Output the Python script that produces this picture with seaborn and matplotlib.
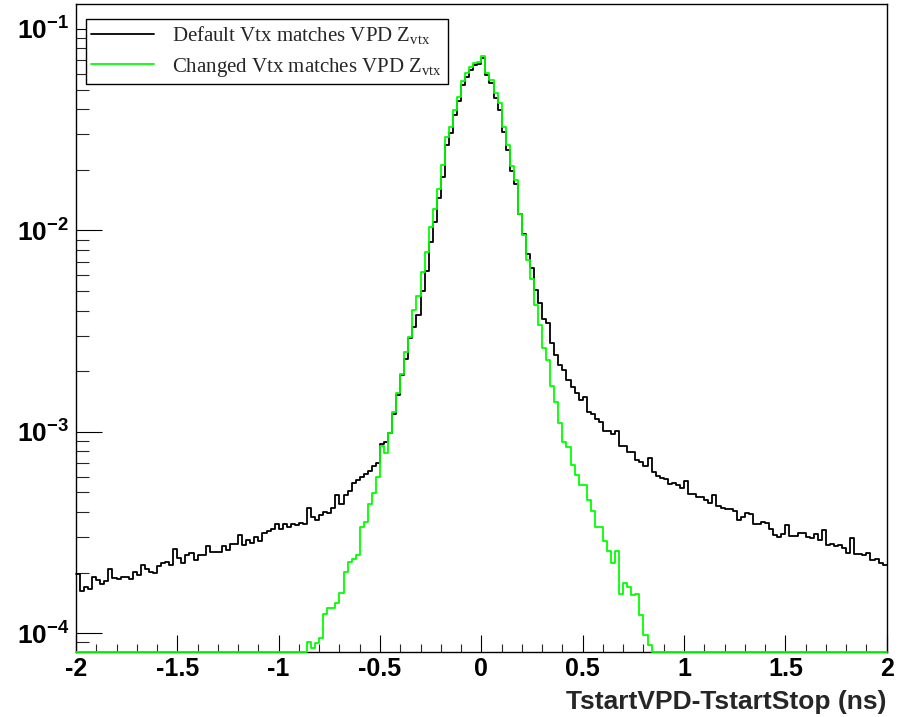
import numpy as np
import pandas as pd
import matplotlib
matplotlib.use("Agg")
import matplotlib.pyplot as plt
import seaborn as sns
from matplotlib.ticker import MultipleLocator, LogLocator, FuncFormatter, NullFormatter

# ---------------- data ----------------
X_RANGE = (-2.0, 2.0)
N_BINS = 200

default_vals = [
    1.98e-4, 1.63e-4, 1.69e-4, 1.65e-4, 1.90e-4, 1.84e-4, 1.76e-4, 1.82e-4, 2.09e-4, 1.89e-4,
    1.86e-4, 1.90e-4, 1.91e-4, 1.87e-4, 2.02e-4, 1.95e-4, 2.17e-4, 2.08e-4, 2.02e-4, 2.00e-4,
    2.16e-4, 2.22e-4, 2.25e-4, 2.17e-4, 2.61e-4, 2.36e-4, 2.24e-4, 2.46e-4, 2.51e-4, 2.31e-4,
    2.45e-4, 2.44e-4, 2.72e-4, 2.54e-4, 2.54e-4, 2.54e-4, 2.72e-4, 2.59e-4, 2.76e-4, 2.77e-4,
    3.07e-4, 2.74e-4, 2.92e-4, 2.82e-4, 3.02e-4, 2.88e-4, 3.16e-4, 3.23e-4, 3.28e-4, 3.48e-4,
    3.29e-4, 3.48e-4, 3.38e-4, 3.47e-4, 3.43e-4, 3.51e-4, 3.48e-4, 4.17e-4, 3.76e-4, 3.67e-4,
    3.86e-4, 4.01e-4, 3.96e-4, 4.20e-4, 4.85e-4, 4.36e-4, 4.85e-4, 5.10e-4, 5.54e-4,
    5.76e-4, 5.98e-4, 6.17e-4, 6.41e-4, 6.76e-4, 7.02e-4, 8.75e-4, 8.92e-4, 9.89e-4, 1.23e-3, 1.52e-3,
    1.92e-3, 2.30e-3, 2.92e-3, 3.31e-3, 3.81e-3, 4.98e-3, 6.32e-3, 8.71e-3, 1.10e-2,
    1.45e-2, 1.85e-2, 2.66e-2, 3.05e-2, 3.74e-2, 4.37e-2, 5.27e-2, 5.75e-2, 6.27e-2, 6.62e-2, 6.70e-2,
    7.16e-2, 5.92e-2, 5.37e-2, 4.53e-2, 3.94e-2, 3.09e-2, 2.51e-2, 1.98e-2, 1.70e-2, 1.21e-2,
    9.55e-3, 7.66e-3, 6.50e-3, 5.07e-3, 4.36e-3, 3.63e-3, 3.47e-3, 2.76e-3, 2.42e-3, 2.15e-3,
    2.02e-3, 1.80e-3, 1.66e-3, 1.55e-3, 1.44e-3, 1.49e-3, 1.26e-3, 1.22e-3, 1.16e-3, 1.12e-3,
    1.01e-3, 1.01e-3, 9.74e-4, 1.01e-3, 8.52e-4, 8.52e-4, 7.96e-4, 7.96e-4, 7.24e-4, 7.10e-4,
    6.76e-4, 7.38e-4, 6.33e-4, 6.03e-4, 5.91e-4, 5.80e-4, 5.48e-4, 5.54e-4, 5.44e-4, 5.24e-4,
    5.69e-4, 4.91e-4, 4.91e-4, 4.73e-4, 4.73e-4, 4.58e-4, 4.45e-4, 4.85e-4, 4.28e-4, 4.20e-4,
    4.12e-4, 4.12e-4, 4.06e-4, 3.65e-4, 3.79e-4, 3.94e-4, 3.89e-4, 3.47e-4, 3.47e-4, 3.58e-4,
    3.54e-4, 3.29e-4, 3.07e-4, 3.02e-4, 3.11e-4, 3.44e-4, 3.05e-4, 3.05e-4, 3.13e-4, 3.16e-4,
    2.99e-4, 2.96e-4, 3.11e-4, 2.92e-4, 3.25e-4, 2.74e-4, 2.79e-4, 2.71e-4, 2.74e-4, 2.64e-4,
    2.49e-4, 2.96e-4, 2.47e-4, 2.47e-4, 2.45e-4, 2.51e-4, 2.31e-4, 2.33e-4, 2.24e-4, 2.18e-4,
]

changed_vals = [
    0, 0, 0, 0, 0, 0, 0, 0, 0, 0,
    0, 0, 0, 0, 0, 0, 0, 0, 0, 0,
    0, 0, 0, 0, 0, 0, 0, 0, 0, 0,
    0, 0, 0, 0, 0, 0, 0, 0, 0, 0,
    0, 0, 0, 0, 0, 0, 0, 0, 0, 0,
    0, 0, 0, 0, 0, 0, 0,
    9.09e-5, 8.42e-5, 8.92e-5, 9.45e-5, 1.24e-4, 1.33e-4, 1.33e-4, 1.41e-4, 1.58e-4, 2.02e-4,
    2.27e-4, 2.35e-4, 2.45e-4, 3.38e-4, 3.58e-4, 4.38e-4, 4.95e-4, 5.98e-4, 8.49e-4, 7.81e-4,
    9.89e-4, 1.26e-3, 1.56e-3,
    1.94e-3, 2.49e-3, 2.95e-3, 4.04e-3, 4.74e-3, 6.18e-3, 7.85e-3, 1.04e-2, 1.27e-2,
    1.60e-2, 2.11e-2, 2.92e-2, 3.27e-2, 3.96e-2, 4.58e-2, 5.52e-2, 6.03e-2, 6.46e-2, 6.81e-2, 6.89e-2,
    7.38e-2, 6.07e-2, 5.59e-2, 4.80e-2, 4.28e-2, 3.27e-2, 2.66e-2, 2.09e-2, 1.78e-2, 1.21e-2,
    9.51e-3, 7.10e-3, 5.75e-3, 4.28e-3, 3.40e-3, 2.61e-3, 2.28e-3, 1.69e-3,
    1.41e-3, 1.10e-3, 8.92e-4, 8.42e-4, 6.83e-4, 6.10e-4, 5.44e-4, 5.44e-4, 4.58e-4, 4.06e-4,
    3.38e-4, 3.38e-4, 2.88e-4, 2.57e-4, 2.24e-4, 2.57e-4, 1.56e-4, 1.78e-4, 1.70e-4, 1.55e-4,
    1.57e-4, 1.23e-4, 9.81e-5, 8.75e-5,
    0, 0, 0, 0, 0, 0, 0, 0, 0, 0,
    0, 0, 0, 0, 0, 0, 0, 0, 0, 0,
    0, 0, 0, 0, 0, 0, 0, 0, 0, 0,
    0, 0, 0, 0, 0, 0, 0, 0, 0, 0,
    0, 0, 0, 0, 0, 0, 0, 0, 0, 0,
    0, 0, 0, 0, 0, 0, 0, 0,
]

series_labels = ["Default Vtx matches VPD Z$_{\\mathrm{vtx}}$",
                 "Changed Vtx matches VPD Z$_{\\mathrm{vtx}}$"]
series_colors = ["#000000", "#00ff00"]
x_label = "TstartVPD-TstartStop (ns)"
Y_LIM = (8.1e-5, 0.133)

# ---------------- style ----------------
sns.set_theme(style="ticks")
plt.rcParams.update({
    "font.family": ["Liberation Sans", "DejaVu Sans"],
    "font.weight": "bold",
    "mathtext.fontset": "custom",
    "mathtext.rm": "Liberation Serif:weight=normal",
    "mathtext.it": "Liberation Serif:italic:weight=normal",
    "mathtext.bf": "Liberation Sans:bold",
    "axes.unicode_minus": False,
    "axes.edgecolor": "black",
    "axes.linewidth": 1.0,
    "figure.facecolor": "white",
    "axes.facecolor": "white",
})

fig = plt.figure(figsize=(9.07, 7.17), dpi=100)
W, H = 907.0, 717.0
ax = fig.add_axes([76 / W, 1 - 651.7 / H, 810.7 / W, 647.7 / H])

centers = X_RANGE[0] + (np.arange(N_BINS) + 0.5) * (X_RANGE[1] - X_RANGE[0]) / N_BINS

for vals, lab, col in zip([default_vals, changed_vals], series_labels, series_colors):
    w = np.maximum(np.asarray(vals, dtype=float), Y_LIM[0])
    sns.histplot(x=centers, weights=w, bins=N_BINS, binrange=X_RANGE,
                 element="step", fill=False, color=col, linewidth=1.3,
                 label=lab, ax=ax, zorder=3, clip_on=False)

ax.set_yscale("log")
ax.set_xlim(*X_RANGE)
ax.set_ylim(*Y_LIM)
ax.set_ylabel("")

# ticks
ax.xaxis.set_major_locator(MultipleLocator(0.5))
ax.xaxis.set_minor_locator(MultipleLocator(0.1))
ax.xaxis.set_major_formatter(FuncFormatter(lambda v, p: f"{v:g}"))
ax.yaxis.set_major_locator(LogLocator(base=10, numticks=10))
ax.yaxis.set_minor_locator(LogLocator(base=10, subs=np.arange(2, 10), numticks=30))
ax.yaxis.set_minor_formatter(NullFormatter())
ax.yaxis.set_major_formatter(FuncFormatter(
    lambda v, p: r"$\mathbf{10^{%d}}$" % int(round(np.log10(v)))))

ax.tick_params(axis="x", which="major", direction="in", length=12, width=0.8,
               top=False, labelsize=18, pad=4, colors="black")
ax.tick_params(axis="x", which="minor", direction="in", length=6, width=0.8, top=False)
ax.tick_params(axis="y", which="major", direction="in", length=19, width=0.8,
               right=False, labelsize=19, pad=5, colors="black")
ax.tick_params(axis="y", which="minor", direction="in", length=9.5, width=0.8, right=False)

for s in ax.spines.values():
    s.set_visible(True)
    s.set_color("black")
    s.set_linewidth(1.0)

ax.set_xlabel(x_label, loc="right", fontsize=19, fontweight="bold", labelpad=6)

leg = ax.legend(loc="upper left", bbox_to_anchor=(0.0123, 0.9768), borderaxespad=0,
                frameon=True, fancybox=False, edgecolor="black", framealpha=1,
                prop={"family": "Liberation Serif", "size": 15, "weight": "normal"},
                handlelength=3.0, handletextpad=0.9, borderpad=0.25, labelspacing=0.45)
leg.get_frame().set_linewidth(1.0)
for line in leg.get_lines():
    line.set_linewidth(1.3)

fig.savefig("out.png", dpi=100)
